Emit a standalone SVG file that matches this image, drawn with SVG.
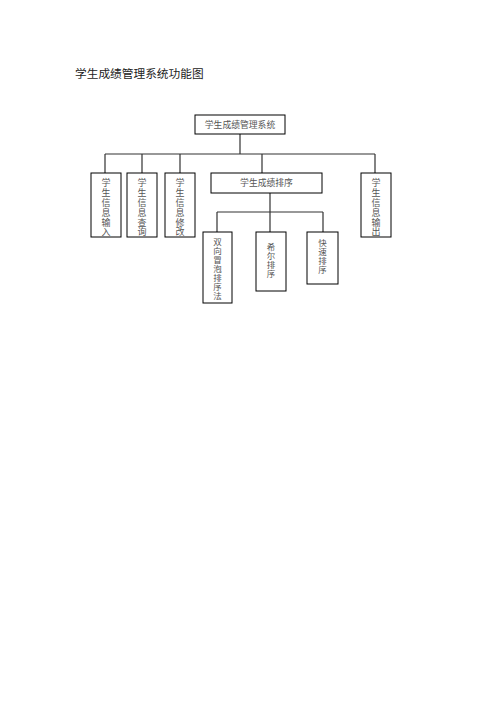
<svg xmlns="http://www.w3.org/2000/svg" width="496" height="702" viewBox="0 0 496 702">
<style>
.box{fill:#fff;stroke:#000;stroke-width:1}
.t{font-family:"Noto Sans CJK SC","Noto Sans",sans-serif;font-size:8.8px;fill:#555;text-anchor:middle}
.v{font-family:"Noto Sans CJK SC","Noto Sans",sans-serif;font-size:9px;letter-spacing:0.8px;fill:#555;writing-mode:vertical-rl;text-anchor:start}
.s{font-family:"Noto Sans CJK SC","Noto Sans",sans-serif;font-size:8.5px;letter-spacing:0.5px;fill:#555;writing-mode:vertical-rl;text-anchor:start}
.title{font-family:"Noto Sans CJK SC","Noto Sans",sans-serif;font-size:11.7px;fill:#222}
.c{stroke:#333;stroke-width:1.2;fill:none}
</style>
<rect width="496" height="702" fill="#fff"/>
<text class="title" x="75" y="77.5">学生成绩管理系统功能图</text>
<g id="connectors">
<path class="c" d="M240 134V154M105 154H375M105 154V173M142 154V173M180 154V173M262 154V173M375 154V173"/>
<path class="c" d="M270 193V212M217 212H323M217 212V232M270 212V232M323 212V232"/>
</g>
<g id="root"><rect class="box" x="195" y="115" width="90" height="19"/><text class="t" x="240" y="127.8">学生成绩管理系统</text></g>
<g id="input"><rect class="box" x="91" y="173" width="30" height="64"/><text class="v" x="106" y="178.5">学生信息输入</text></g>
<g id="query"><rect class="box" x="127" y="173" width="30" height="64"/><text class="v" x="142" y="178.5">学生信息查询</text></g>
<g id="modify"><rect class="box" x="165" y="173" width="30" height="64"/><text class="v" x="180" y="178.5">学生信息修改</text></g>
<g id="sort"><rect class="box" x="211" y="173" width="111" height="20"/><text class="t" x="266.5" y="186">学生成绩排序</text></g>
<g id="output"><rect class="box" x="361" y="173" width="30" height="64"/><text class="v" x="376" y="178.5">学生信息输出</text></g>
<g id="bubble"><rect class="box" x="203" y="232" width="29" height="71"/><text class="s" x="217.5" y="237.5">双向冒泡排序法</text></g>
<g id="shell"><rect class="box" x="256" y="232" width="30" height="59"/><text class="s" x="271" y="242.5">希尔排序</text></g>
<g id="quick"><rect class="box" x="307" y="232" width="31" height="52"/><text class="s" x="322.5" y="238.5">快速排序</text></g>
</svg>
